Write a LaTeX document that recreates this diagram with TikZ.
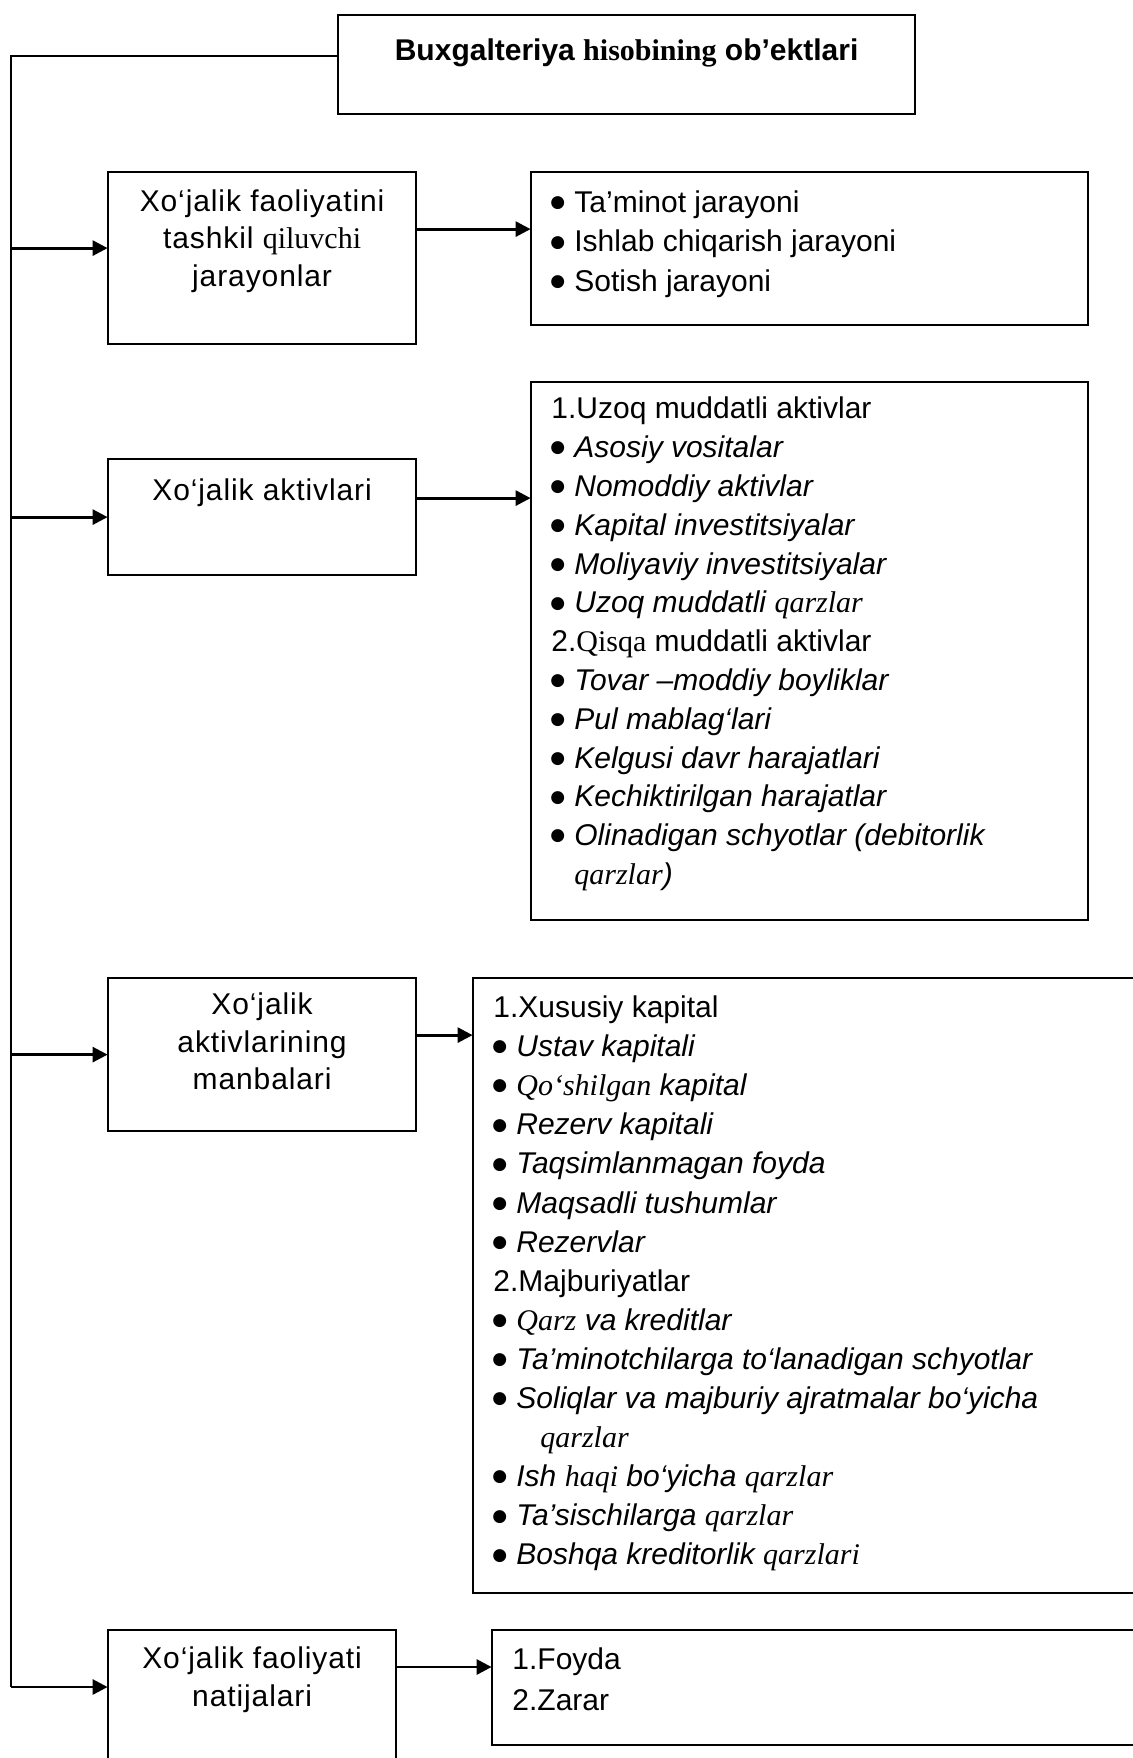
\documentclass[tikz,border=0pt]{standalone}
\usepackage{fontspec}
\setmainfont{Liberation Sans}
\newfontfamily\tms{Liberation Serif}
\newfontfamily\dvs{DejaVu Sans}
\usetikzlibrary{arrows.meta}
% round bullet with fixed gap before the item text
\newcommand\bul{\makebox[11.5pt][l]{\hspace*{-0.5pt}\raisebox{2.4pt}{\dvs\fontsize{8.5}{0}\selectfont ●}}}
\begin{document}
\begin{tikzpicture}[x=0.5pt,y=-0.5pt,
  bx/.style n args={2}{draw, line width=1.1pt, rectangle, anchor=north west,
    inner sep=0pt, minimum width=#1*0.5pt, minimum height=#2*0.5pt},
  txt/.style={inner sep=0pt, execute at begin node=\strut},
  ctr/.style={txt, align=center, anchor=north,
    font=\fontsize{15}{18.7}\selectfont\addfontfeature{LetterSpace=3}},
  lst/.style={txt, align=left, anchor=north west, font=\fontsize{15}{#1}\selectfont},
  ln/.style={line width=1.1pt},
  arr/.style={line width=1.4pt, -{Triangle[length=7.5pt, width=7.5pt]}, shorten >=-0.3pt}
]
\useasboundingbox (0,0) rectangle (1133,1758);
\clip (0,0) rectangle (1133,1758);

% boxes
\node[bx={577}{99}]  (top) at (337,14) {};
\node[bx={308}{172}] (b1)  at (107,171) {};
\node[bx={557}{153}] (l1)  at (530,171) {};
\node[bx={308}{116}] (b2)  at (107,458) {};
\node[bx={557}{538}] (l2)  at (530,381) {};
\node[bx={308}{153}] (b3)  at (107,977) {};
\node[bx={700}{615}] (l3)  at (472,977) {};
\node[bx={288}{200}] (b4)  at (107,1629) {};
\node[bx={700}{115}] (l4)  at (491,1629) {};

% texts
\node[txt, anchor=north, font=\fontsize{15}{19.3}\selectfont, yshift=-9.5pt] (ttop) at (top.north)
  {\textbf{Buxgalteriya {\tms hisobining} ob’ektlari}};
\node[ctr, yshift=-9.2pt] (tb1) at (b1.north)
  {Xo‘jalik faoliyatini\\tashkil {\tms qiluvchi}\\jarayonlar};
\node[ctr, yshift=-7.9pt] (tb2) at (b2.north) {Xo‘jalik aktivlari};
\node[ctr, yshift=-7.9pt] (tb3) at (b3.north) {Xo‘jalik\\aktivlarining\\manbalari};
\node[ctr, yshift=-8.8pt] (tb4) at (b4.north) {Xo‘jalik faoliyati\\natijalari};

\node[lst=19.6, xshift=10.5pt, yshift=-9.8pt] (tl1) at (l1.north west)
  {\bul Ta’minot jarayoni\\
   \bul Ishlab chiqarish jarayoni\\
   \bul Sotish jarayoni};

\node[lst=19.4, xshift=10.5pt, yshift=-7.9pt] (tl2) at (l2.north west)
  {1.Uzoq muddatli aktivlar\\
   \bul\textit{Asosiy vositalar}\\
   \bul\textit{Nomoddiy aktivlar}\\
   \bul\textit{Kapital investitsiyalar}\\
   \bul\textit{Moliyaviy investitsiyalar}\\
   \bul\textit{Uzoq muddatli {\tms qarzlar}}\\
   2.{\tms Qisqa} muddatli aktivlar\\
   \bul\textit{Tovar –moddiy boyliklar}\\
   \bul\textit{Pul mablag‘lari}\\
   \bul\textit{Kelgusi davr harajatlari}\\
   \bul\textit{Kechiktirilgan harajatlar}\\
   \bul\textit{Olinadigan schyotlar (debitorlik}\\
   \hspace*{11.5pt}\textit{{\tms qarzlar})}};

\node[lst=19.55, xshift=10.5pt, yshift=-9.2pt] (tl3) at (l3.north west)
  {1.Xususiy kapital\\
   \bul\textit{Ustav kapitali}\\
   \bul\textit{{\tms Qo‘shilgan} kapital}\\
   \bul\textit{Rezerv kapitali}\\
   \bul\textit{Taqsimlanmagan foyda}\\
   \bul\textit{Maqsadli tushumlar}\\
   \bul\textit{Rezervlar}\\
   2.Majburiyatlar\\
   \bul\textit{{\tms Qarz} va kreditlar}\\
   \bul\textit{Ta’minotchilarga to‘lanadigan schyotlar}\\
   \bul\textit{Soliqlar va majburiy ajratmalar bo‘yicha}\\
   \hspace*{23.5pt}\textit{\tms qarzlar}\\
   \bul\textit{Ish {\tms haqi} bo‘yicha {\tms qarzlar}}\\
   \bul\textit{Ta’sischilarga {\tms qarzlar}}\\
   \bul\textit{Boshqa kreditorlik {\tms qarzlari}}};

\node[lst=20.3, xshift=10.5pt, yshift=-9.3pt] (tl4) at (l4.north west)
  {1.Foyda\\2.Zarar};

% trunk on the left
\coordinate (tr) at (11,56);
\coordinate (j4) at (11,1687);
\draw[ln] (top.west |- tr) -- (tr) -- (j4);

% branches into the left boxes
\draw[arr] ([yshift=5pt]b1.west -| tr) -- ([yshift=5pt]b1.west);
\draw[arr] (b2.west -| tr) -- (b2.west);
\draw[arr] (b3.west -| tr) -- (b3.west);
\draw[arr] (j4) -- (j4 -| b4.west);

% arrows into the lists
\draw[arr] ([yshift=14.5pt]b1.east) -- ([yshift=14.5pt]b1.east -| l1.west);
\draw[arr] ([yshift=9.5pt]b2.east) -- ([yshift=9.5pt]b2.east -| l2.west);
\draw[arr] ([yshift=9.75pt]b3.east) -- ([yshift=9.75pt]b3.east -| l3.west);
\coordinate (k4) at (395,1667);
\draw[arr] (k4 -| b4.east) -- (k4 -| l4.west);
\end{tikzpicture}
\end{document}
